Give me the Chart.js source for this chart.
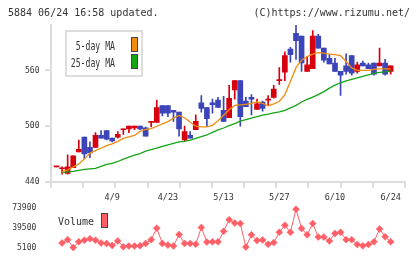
<!DOCTYPE html>
<html>
<head>
<meta charset="utf-8">
<script src="https://cdn.jsdelivr.net/npm/chart.js@4.4.1/dist/chart.umd.min.js"></script>
<style>
  body { margin: 0; background: #fff; }
  #wrap { position: relative; width: 420px; height: 259px; overflow: hidden; font-family: "DejaVu Sans Mono", monospace; color: #333; }
  canvas { position: absolute; left: 0; }
  #c1 { top: 0; }
  #c2 { top: 192px; }
  .hd { position: absolute; top: 7px; font-size: 10px; line-height: 12px; white-space: nowrap; }
  .box { position: absolute; left: 65px; top: 30px; width: 78px; height: 47px; border: 2px solid #ddd; box-sizing: border-box; background: #fff; }
  .lg { position: absolute; left: 0; width: 115px; text-align: right; font-size: 12px; line-height: 16px; white-space: nowrap; transform: scaleX(0.68); transform-origin: right center; }
  .sw { position: absolute; width: 7px; height: 15px; border: 1px solid #444; box-sizing: border-box; }
</style>
</head>
<body>
<div id="wrap">
  <canvas id="c1" width="420" height="192"></canvas>
  <canvas id="c2" width="420" height="67"></canvas>
  <div class="hd" style="left:8px;">5884 06/24 16:58 updated.</div>
  <div class="hd" style="right:10px;">(C)https://www.rizumu.net/</div>
  <div class="box"></div>
  <div class="lg" style="top:38px;">5-day MA</div>
  <div class="lg" style="top:55px;">25-day MA</div>
  <div class="sw" style="left:131px;top:37px;background:#f08c10;"></div>
  <div class="sw" style="left:131px;top:54px;background:#14a514;"></div>
  <div class="hd" style="left:58px;top:216px;">Volume</div>
  <div class="sw" style="left:101px;top:213px;background:#ff6068;"></div>
</div>
<script>
// daily prices, oldest first
const opens  = [456, 454, 449, 455, 472, 488, 477, 477, 490, 495, 487, 488, 496, 497, 498, 500, 498, 504, 504, 522, 522,
                517, 515, 485, 490, 496, 525, 520, 525, 528, 517, 509, 539, 549, 527, 531, 518, 526, 528, 531, 549,
                558, 583, 600, 597, 559, 562, 597, 584, 573, 568, 559, 565, 576, 559, 568, 566, 568, 565, 568, 559];
const highs  = [456, 456, 469, 468, 485, 488, 483, 493, 495, 495, 487, 494, 497, 500, 500, 500, 499, 505, 528, 522, 522,
                517, 515, 500, 494, 512, 533, 520, 529, 531, 532, 544, 549, 549, 531, 534, 529, 527, 533, 544, 563,
                580, 585, 609, 597, 575, 603, 599, 584, 577, 573, 559, 578, 576, 569, 570, 568, 568, 584, 572, 565];
const lows   = [456, 448, 448, 455, 472, 465, 466, 477, 487, 485, 483, 487, 491, 493, 496, 496, 489, 499, 504, 511, 510,
                505, 489, 484, 487, 496, 515, 500, 514, 520, 505, 509, 529, 500, 521, 512, 518, 516, 523, 530, 545,
                549, 569, 572, 559, 559, 562, 584, 569, 567, 559, 533, 556, 555, 557, 565, 562, 555, 565, 555, 556];
const closes = [456, 454, 456, 468, 475, 470, 471, 490, 487, 486, 484, 491, 497, 500, 500, 497, 489, 505, 520, 514, 514,
                515, 497, 494, 487, 505, 519, 508, 523, 520, 505, 530, 549, 510, 521, 529, 524, 519, 529, 540, 549,
                576, 577, 592, 568, 566, 597, 584, 571, 567, 559, 555, 559, 557, 566, 565, 562, 556, 568, 556, 565];

const ma5 = [null, 450.6, 452.7, 455.9, 459.1, 464.4, 470.8, 473.5, 476.1, 478.8, 480.9, 483.5, 486.7, 488.3, 489.9,
             494.2, 496.3, 497.3, 499.8, 502.3, 504.8, 508.5, 511.5, 509, 504.2, 499.9, 499.1, 499.1, 500.8, 505.8,
             511.6, 517.5, 522.3, 522.8, 523.4, 524.4, 526, 524.4, 521.8, 523.9, 526.5, 534, 548, 563, 571, 574.9,
             577.5, 579.1, 578.6, 577.5, 577, 575.9, 569.6, 562.7, 560, 560, 560, 561.1, 561.6, 561.6, 561.6];
const ma25 = [null, 450.1, 450.6, 451.2, 452.2, 453.3, 453.8, 454.3, 456.5, 458.6, 459.7, 461.8, 464.4, 466.5, 468.7,
              470.3, 472.9, 474.5, 476.1, 478.2, 479.8, 481.4, 483, 483.5, 484.9, 486.7, 488.5, 490.4, 493.1, 495.8,
              497.9, 500.5, 502.7, 505.3, 506.9, 508.5, 510.1, 511.7, 512.8, 514.3, 515.4, 517, 519.6, 522.3, 526,
              528.7, 531.3, 534, 537.2, 540.9, 544.1, 546.7, 548.8, 550.4, 552, 553.6, 555.2, 556.8, 557.9, 558.4, 559.5];

const volume = [null, 13000, 18900, 5100, 15000, 18000, 20600, 18000, 13000, 12200, 8800, 16700, 6600, 7600, 7600,
                8300, 12200, 18900, 39000, 12200, 9300, 7600, 27800, 12200, 12200, 11000, 40200, 14700, 15000, 15000,
                33500, 53700, 47900, 47100, 5900, 27300, 17200, 18400, 10800, 13800, 31800, 44100, 31800, 72100, 38500,
                27300, 47100, 23400, 23400, 16700, 29500, 31800, 18900, 18900, 10500, 8000, 10500, 15000, 37400, 23900, 15000];

const priceTicks = [440, 500, 560];
const volTicks = [5100, 39500, 73900];
const dateIdx = [10, 20, 30, 40, 50, 60];
const dateLabels = ['4/9', '4/23', '5/13', '5/27', '6/10', '6/24'];

const RED = '#d7000f', BLUE = '#3b45b9', PINK = '#ff6068';
const X_MIN = -0.99, X_MAX = 62.57;
const FONT = 'DejaVu Sans Mono';

const colors = opens.map((o, i) => closes[i] >= o ? RED : BLUE);
const bodies = opens.map((o, i) => ({ x: i, y: [o, closes[i]] }));
const wicks = opens.map((o, i) => ({ x: i, y: [lows[i], highs[i]] }));
const asPoints = arr => arr.map((v, i) => ({ x: i, y: v }));

new Chart(document.getElementById('c1'), {
    type: 'bar',
    data: {
        datasets: [
            { type: 'line', data: asPoints(ma5), borderColor: '#f08c10', borderWidth: 1.3, pointRadius: 0, order: 0 },
            { type: 'line', data: asPoints(ma25), borderColor: '#14a514', borderWidth: 1.3, pointRadius: 0, order: 0 },
            { data: bodies, backgroundColor: colors, barThickness: 5, minBarLength: 1, grouped: false, order: 1 },
            { data: wicks, backgroundColor: colors, barThickness: 1, grouped: false, order: 2 }
        ]
    },
    options: {
        responsive: false,
        animation: false,
        devicePixelRatio: 1,
        layout: { padding: { top: 25, right: 15, left: 0, bottom: 0 } },
        plugins: { legend: { display: false }, tooltip: { enabled: false } },
        scales: {
            x: {
                type: 'linear', min: X_MIN, max: X_MAX, offset: false,
                afterBuildTicks: axis => {
                    // 11 evenly spaced tick marks along the bottom axis
                    const t = [];
                    for (let k = 0; k <= 11; k++) t.push({ value: X_MIN + k * (X_MAX - X_MIN) / 11 });
                    axis.ticks = t;
                },
                afterFit: axis => { axis.height = 8; },
                ticks: { display: false },
                grid: { drawOnChartArea: false, offset: false, tickLength: 6, color: '#ddd', lineWidth: 2 },
                border: { color: '#ddd', width: 2 }
            },
            y: {
                min: 440, max: 609, beginAtZero: false,
                afterBuildTicks: axis => { axis.ticks = priceTicks.map(v => ({ value: v })); },
                afterFit: axis => { axis.width = 51; },
                ticks: { font: { family: FONT, size: 8 }, color: '#333', padding: 5.5 },
                grid: { drawOnChartArea: false, tickLength: 6, color: '#ddd', lineWidth: 2 },
                border: { color: '#ddd', width: 2 }
            }
        }
    }
});

new Chart(document.getElementById('c2'), {
    type: 'line',
    data: {
        datasets: [{
            data: asPoints(volume),
            borderColor: PINK,
            backgroundColor: PINK,
            borderWidth: 1,
            pointStyle: 'rectRot',
            pointRadius: 3.5,
            pointBorderWidth: 0.5,
            clip: false
        }]
    },
    options: {
        responsive: false,
        animation: false,
        devicePixelRatio: 1,
        layout: { padding: { top: 0, right: 15, left: 0, bottom: 9.7 } },
        plugins: { legend: { display: false }, tooltip: { enabled: false } },
        scales: {
            x: {
                type: 'linear', position: 'top', min: X_MIN, max: X_MAX,
                afterBuildTicks: axis => { axis.ticks = dateIdx.map(v => ({ value: v })); },
                afterFit: axis => { axis.height = 16.3; },
                ticks: {
                    callback: (v, i) => dateLabels[i],
                    font: { family: FONT, size: 8.5 }, color: '#333', padding: -3,
                    maxRotation: 0, autoSkip: false
                },
                grid: { display: false },
                border: { display: false }
            },
            y: {
                min: 5100, max: 73900,
                afterBuildTicks: axis => { axis.ticks = volTicks.map(v => ({ value: v })); },
                afterFit: axis => { axis.width = 51; },
                ticks: { callback: v => String(v), font: { family: FONT, size: 8 }, color: '#333', padding: 6.7 },
                grid: { display: false },
                border: { display: false }
            }
        }
    }
});
</script>
</body>
</html>
